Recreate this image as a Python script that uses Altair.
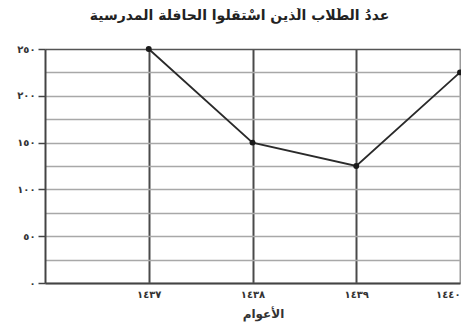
import altair as alt
import pandas as pd

# ---- data ----
years = [1437, 1438, 1439, 1440]
year_labels = ["١٤٣٧", "١٤٣٨", "١٤٣٩", "١٤٤٠"]
students = [250, 150, 125, 225]

y_grid_values = [0, 25, 50, 75, 100, 125, 150, 175, 200, 225, 250]
y_label_values = [0, 50, 100, 150, 200, 250]
y_label_texts = ["٠", "٥٠", "١٠٠", "١٥٠", "٢٠٠", "٢٥٠"]

chart_title = "عددُ الطُّلاب الّذين اسْتقلوا الحافلة المدرسية"
x_title = "الأعوام"

df = pd.DataFrame({"year": years, "students": students})


def label_expr(values, texts):
    parts = [f"datum.value == {v} ? '{t}'" for v, t in zip(values, texts)]
    return " : ".join(parts) + " : ''"


x_axis = alt.Axis(
    values=years,
    labelExpr=label_expr(years, year_labels),
    grid=True,
    gridColor={"condition": {"test": "datum.value == 1440", "value": "#9a9a9a"}, "value": "#4a4a4a"},
    gridWidth=2,
    ticks=False,
    labelPadding=6,
    labelFont="DejaVu Sans",
    labelFontSize=10,
    labelColor="#333333",
    labelFontWeight="bold",
    domainColor="#444444",
    domainWidth=2,
    title=x_title,
    titleFont="DejaVu Sans",
    titleFontSize=12,
    titleFontWeight="bold",
    titleColor="#333333",
    titlePadding=9,
    titleX=218,
)

y_axis = alt.Axis(
    values=y_grid_values,
    labelExpr=label_expr(y_label_values, y_label_texts),
    grid=True,
    gridColor={"condition": {"test": "datum.value == 250", "value": "#555555"}, "value": "#a8a8a8"},
    gridWidth=1.6,
    tickOpacity={"condition": {"test": "datum.value % 50 == 0", "value": 1}, "value": 0},
    tickSize=7,
    tickColor="#444444",
    tickWidth=1.5,
    labelPadding=3,
    labelFont="DejaVu Sans",
    labelFontSize=10,
    labelColor="#333333",
    labelFontWeight="bold",
    domainColor="#444444",
    domainWidth=2,
    title=None,
)

chart = (
    alt.Chart(df)
    .mark_line(color="#2a2a2a", strokeWidth=1.8,
               point=alt.OverlayMarkDef(filled=True, color="#1a1a1a", size=35))
    .encode(
        x=alt.X("year:Q", scale=alt.Scale(domain=[1436, 1440], nice=False, zero=False), axis=x_axis),
        y=alt.Y("students:Q", scale=alt.Scale(domain=[0, 250], nice=False), axis=y_axis),
    )
    .properties(
        width=415,
        height=234,
        title=alt.TitleParams(
            chart_title,
            font="DejaVu Sans",
            fontSize=14,
            fontWeight="bold",
            color="#222222",
            anchor="middle",
            offset=21,
            dx=-13,
        ),
        autosize=alt.AutoSizeParams(type="none"),
        padding={"left": 37, "top": 41, "right": 1, "bottom": 42},
    )
    .configure_view(stroke=None)
    .configure(background="white")
)

chart.save("out.html", embed_options={"renderer": "svg", "actions": False})
